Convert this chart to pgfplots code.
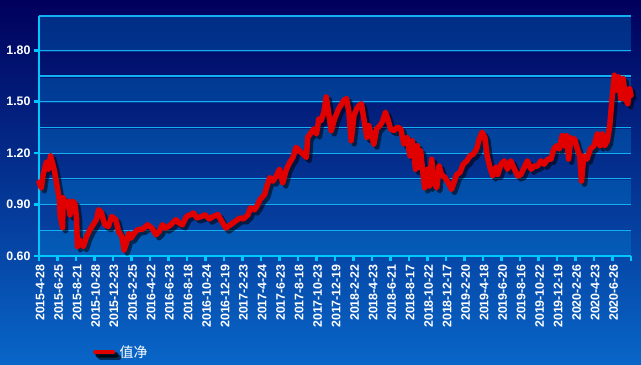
\documentclass[border=0pt]{standalone}
\usepackage{fontspec}
\setmainfont{Liberation Sans}
\newfontfamily\cjk{Noto Sans CJK SC}
\usepackage{pgfplots}
\usepackage{pgfplotstable}
\pgfplotsset{compat=1.18}
\definecolor{bgtop}{RGB}{0,0,92}
\definecolor{bgbot}{RGB}{8,102,200}
\definecolor{band}{RGB}{0,140,220}
\definecolor{gridc}{RGB}{20,175,240}
\definecolor{axc}{RGB}{0,200,255}
\definecolor{navred}{RGB}{225,0,0}

\pgfplotstableread{
x y
0 1.030
5 0.998
9 1.076
16 1.147
20 1.106
25 1.184
31 1.125
34 1.088
39 1.008
44 0.930
46 0.831
51 0.765
52 0.940
58 0.890
63 0.920
67 0.840
72 0.920
77 0.910
81 0.830
83 0.655
88 0.694
96 0.655
103 0.714
110 0.753
117 0.782
124 0.812
129 0.870
135 0.853
142 0.782
150 0.772
157 0.830
166 0.812
172 0.743
179 0.714
184 0.635
189 0.675
194 0.733
199 0.704
206 0.733
213 0.753
224 0.757
235 0.782
244 0.763
253 0.724
260 0.743
267 0.782
274 0.763
285 0.782
296 0.812
303 0.792
310 0.782
319 0.831
328 0.841
334 0.851
341 0.822
352 0.831
359 0.841
368 0.816
377 0.831
387 0.841
395 0.802
404 0.763
414 0.782
424 0.802
435 0.822
442 0.816
452 0.841
457 0.880
466 0.870
471 0.890
478 0.929
488 0.960
492 1.000
499 1.057
506 1.037
513 1.067
520 1.106
527 1.027
535 1.106
542 1.145
549 1.175
556 1.234
563 1.214
571 1.194
578 1.175
581 1.292
589 1.322
594 1.341
600 1.312
605 1.400
610 1.390
616 1.439
621 1.528
626 1.439
632 1.331
639 1.400
648 1.459
659 1.508
665 1.518
670 1.439
675 1.272
681 1.420
687 1.459
692 1.478
697 1.488
703 1.390
709 1.292
713 1.361
718 1.312
724 1.253
730 1.341
737 1.361
742 1.380
749 1.439
754 1.400
760 1.341
767 1.331
775 1.351
782 1.341
789 1.253
796 1.292
802 1.184
807 1.272
814 1.106
818 1.243
822 1.116
825 1.214
830 1.086
834 0.998
840 1.106
844 1.008
849 1.165
854 1.027
860 0.998
865 1.125
870 1.076
878 1.057
885 1.027
892 0.988
897 1.027
903 1.076
910 1.086
917 1.135
925 1.155
932 1.184
939 1.194
946 1.224
952 1.282
958 1.322
964 1.292
969 1.184
975 1.116
981 1.067
988 1.120
992 1.076
999 1.135
1006 1.155
1013 1.106
1020 1.155
1028 1.106
1035 1.067
1042 1.076
1049 1.116
1056 1.155
1064 1.106
1071 1.125
1078 1.125
1085 1.155
1092 1.135
1100 1.165
1107 1.165
1113 1.224
1119 1.243
1125 1.224
1131 1.302
1136 1.243
1141 1.302
1145 1.165
1150 1.290
1153 1.282
1158 1.282
1164 1.224
1169 1.184
1173 1.037
1178 1.184
1185 1.165
1192 1.224
1200 1.243
1207 1.312
1213 1.243
1218 1.312
1223 1.243
1229 1.272
1234 1.361
1239 1.518
1244 1.655
1250 1.567
1253 1.645
1258 1.518
1263 1.635
1268 1.518
1273 1.488
1277 1.576
1280 1.537
}\navdata

\begin{document}
\begin{tikzpicture}[x=1bp,y=1bp]
\shade[top color=bgtop, bottom color=bgbot] (0,0) rectangle (641,364);
\foreach \a/\b in {108/133.5,159/184.5,210/235.5,261/286.5,312/348}
  \fill[band, opacity=0.3] (39,\a) rectangle (631,\b);
\begin{axis}[
  at={(39bp,108bp)}, anchor=south west, scale only axis,
  width=592bp, height=240bp,
  xmin=0, xmax=1280, ymin=0.6, ymax=2.0,
  axis x line*=bottom, axis y line*=left,
  axis line style={axc, line width=2.5bp},
  clip=false,
  xtick={0,40,...,1280},
  xticklabels={2015-4-28,2015-6-25,2015-8-21,2015-10-28,2015-12-23,2016-2-25,2016-4-22,2016-6-23,2016-8-18,2016-10-24,2016-12-19,2017-2-23,2017-4-24,2017-6-23,2017-8-18,2017-10-23,2017-12-19,2018-2-22,2018-4-23,2018-6-21,2018-8-17,2018-10-22,2018-12-17,2019-2-20,2019-4-18,2019-6-20,2019-8-16,2019-10-22,2019-12-19,2020-2-26,2020-4-23,2020-6-26,{}},
  ytick={0.6,0.9,1.2,1.5,1.8},
  minor ytick={0.75,1.05,1.35,1.65},
  ymajorgrids, yminorgrids,
  major grid style={gridc, line width=1.2bp},
  minor grid style={gridc, line width=1.2bp},
  tick align=outside,
  major tick length=5bp, minor tick length=0pt,
  tick style={axc, line width=2.5bp},
  yticklabel style={/pgf/number format/fixed, /pgf/number format/fixed zerofill, /pgf/number format/precision=2},
  ticklabel style={font=\fontsize{12.4}{14}\selectfont\bfseries, text=white},
  /pgf/number format/assume math mode=true,
  xticklabel style={rotate=90, anchor=east, yshift=-1bp},
  legend style={draw=none, fill=none, text=white, font=\cjk\fontsize{14}{16}\selectfont, at={(0.0912,-0.40)}, anchor=west, inner sep=0pt},
  legend image code/.code={
    \draw[black, opacity=0.5, line width=4bp] (2.5bp,-2.5bp) -- (20.5bp,-2.5bp);
    \draw[navred, line width=4bp] (0bp,0bp) -- (18bp,0bp);
  },
]
\draw[gridc, line width=1.2bp] (rel axis cs:0,1) -- (rel axis cs:1,1);
\addplot[navred, line width=5.5bp, line join=round, line cap=round,
  preaction={draw, black, opacity=0.55, line width=5.5bp, transform canvas={shift={(3bp,-3bp)}}}] table[x=x,y=y]{\navdata};
\addlegendentry{值净}
\end{axis}
\end{tikzpicture}
\end{document}
